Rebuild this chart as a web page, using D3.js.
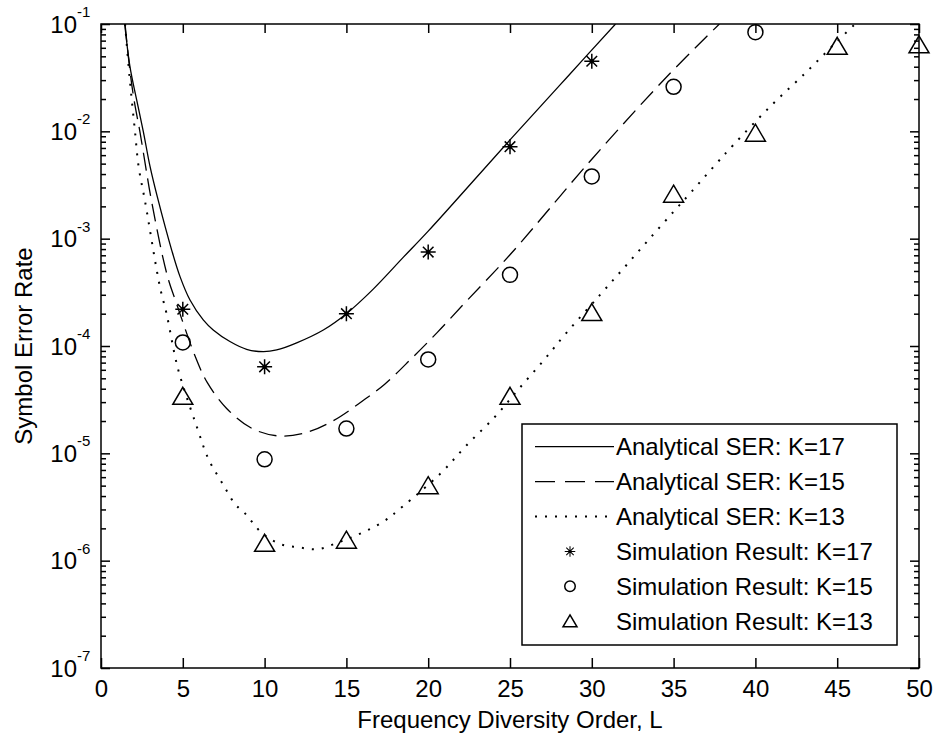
<!DOCTYPE html>
<html>
<head>
<meta charset="utf-8">
<script src="https://cdn.jsdelivr.net/npm/d3@7"></script>
<style>
  body { margin: 0; background: #fff; }
  text { font-family: "Liberation Sans", Arial, sans-serif; fill: #000; }
</style>
</head>
<body>
<div class="chart"></div>
<script>
// x ticks and y decades
var xTicks = [0, 5, 10, 15, 20, 25, 30, 35, 40, 45, 50];
var yDecades = [1e-7, 1e-6, 1e-5, 1e-4, 1e-3, 1e-2, 1e-1];
var yExponents = ["-7", "-6", "-5", "-4", "-3", "-2", "-1"];

// analytical curves
var anaL17 = [1.45, 1.77, 2.18, 2.59, 3.0, 3.44, 4.32, 4.83, 5.44, 6.25, 6.86, 7.88, 8.9, 9.92, 10.74, 11.96, 13.59, 15.0, 16.64, 18.5, 20, 25, 28.46, 31.45];
var anaK17 = [1e-1, 4.0e-2, 1.96e-2, 9.9e-3, 4.68e-3, 2.46e-3, 7.83e-4, 4.43e-4, 2.68e-4, 1.75e-4, 1.41e-4, 1.10e-4, 9.31e-5, 8.85e-5, 9.18e-5, 1.07e-4, 1.41e-4, 2.0e-4, 3.39e-4, 6.76e-4, 1.175e-3, 8.32e-3, 3.16e-2, 1e-1];

var anaL15 = [1.47, 1.74, 2.02, 2.38, 2.73, 3.04, 3.77, 4.16, 4.52, 5.75, 6.5, 7.68, 9.21, 10.9, 12.53, 14.16, 15.73, 17.36, 18.99, 20.56, 22.35, 25, 30, 34.6, 37.8];
var anaK15 = [1e-1, 4.0e-2, 1.96e-2, 9.9e-3, 4.68e-3, 2.46e-3, 6.79e-4, 3.97e-4, 2.74e-4, 8.07e-5, 4.55e-5, 2.62e-5, 1.71e-5, 1.45e-5, 1.56e-5, 2.0e-5, 2.88e-5, 4.43e-5, 7.67e-5, 1.34e-4, 2.63e-4, 7.08e-4, 5.5e-3, 3.24e-2, 1e-1];

var anaL13 = [1.47, 1.69, 1.88, 2.08, 2.3, 2.69, 3.6, 4.0, 4.62, 5.03, 5.85, 6.56, 7.48, 8.19, 8.8, 9.82, 10.94, 12.1, 13.28, 14.5, 15.53, 17.26, 18.42, 20.72, 22.35, 24.08, 25.51, 27.04, 28.46, 30.5, 32.03, 33.56, 35.09, 36.1, 37.63, 38.65, 40.9, 43.14, 44.97, 46.1];
var anaK13 = [1e-1, 4.0e-2, 1.96e-2, 9.9e-3, 4.68e-3, 2.24e-3, 3.57e-4, 2.02e-4, 6.9e-5, 4.17e-5, 1.78e-5, 8.91e-6, 5.07e-6, 3.37e-6, 2.76e-6, 1.82e-6, 1.43e-6, 1.33e-6, 1.28e-6, 1.48e-6, 1.70e-6, 2.31e-6, 3.18e-6, 6.41e-6, 1.19e-5, 2.19e-5, 3.94e-5, 7.29e-5, 1.33e-4, 2.99e-4, 5.48e-4, 1.01e-3, 1.85e-3, 2.74e-3, 5.04e-3, 7.46e-3, 1.70e-2, 3.6e-2, 6.84e-2, 1e-1];

// simulation points
var simL17 = [5, 10, 15, 20, 25, 30];
var simK17 = [2.2e-4, 6.4e-5, 2.0e-4, 7.5e-4, 7.2e-3, 4.5e-2];
var simL15 = [5, 10, 15, 20, 25, 30, 35, 40];
var simK15 = [1.08e-4, 8.8e-6, 1.7e-5, 7.5e-5, 4.6e-4, 3.8e-3, 2.6e-2, 8.4e-2];
var simL13 = [5, 10, 15, 20, 25, 30, 35, 40, 45, 50];
var simK13 = [3.4e-5, 1.45e-6, 1.55e-6, 5.0e-6, 3.4e-5, 2.05e-4, 2.6e-3, 9.6e-3, 6.2e-2, 6.4e-2];

var legendLabels = ["Analytical SER: K=17", "Analytical SER: K=15", "Analytical SER: K=13",
                    "Simulation Result: K=17", "Simulation Result: K=15", "Simulation Result: K=13"];

var svgWidth = 933;
var svgHeight = 742;
var margin = { top: 24, left: 101, right: 14, bottom: 74 };
var width = svgWidth - margin.left - margin.right;
var height = svgHeight - margin.top - margin.bottom;

var svg = d3.select(".chart").append("svg")
    .attr("width", svgWidth)
    .attr("height", svgHeight)
    .style("display", "block");

svg.append("rect").attr("width", svgWidth).attr("height", svgHeight).attr("fill", "#fff");

var chartGroup = svg.append("g")
    .attr("transform", `translate(${margin.left}, ${margin.top})`);

var xScale = d3.scaleLinear().domain([0, 50]).range([0, width]);
var yScale = d3.scaleLog().domain([1e-7, 1e-1]).range([height, 0]);

// minor log ticks 2..9 per decade
var minorTicks = [];
yDecades.slice(0, -1).forEach(function (d) {
    for (var k = 2; k <= 9; k++) minorTicks.push(d * k);
});

function styleAxis(g) {
    g.select(".domain").remove();
    g.selectAll(".tick line").attr("stroke", "#000").attr("stroke-width", 1.5);
    g.selectAll(".tick text").style("font-size", "24px").attr("fill", "#000");
}

// x axes (bottom with labels, top without)
chartGroup.append("g")
    .attr("transform", `translate(0,${height})`)
    .call(d3.axisBottom(xScale).tickValues(xTicks).tickSize(-10).tickSizeOuter(0).tickPadding(12))
    .call(styleAxis);
chartGroup.append("g")
    .call(d3.axisTop(xScale).tickValues(xTicks).tickSize(-9).tickSizeOuter(0).tickFormat(""))
    .call(styleAxis);

// y axes major + minor, left and right
chartGroup.append("g")
    .call(d3.axisLeft(yScale).tickValues(yDecades).tickSize(-9).tickSizeOuter(0).tickFormat(""))
    .call(styleAxis);
chartGroup.append("g")
    .call(d3.axisLeft(yScale).tickValues(minorTicks).tickSize(-5).tickSizeOuter(0).tickFormat(""))
    .call(styleAxis);
chartGroup.append("g")
    .attr("transform", `translate(${width},0)`)
    .call(d3.axisRight(yScale).tickValues(yDecades).tickSize(-9).tickSizeOuter(0).tickFormat(""))
    .call(styleAxis);
chartGroup.append("g")
    .attr("transform", `translate(${width},0)`)
    .call(d3.axisRight(yScale).tickValues(minorTicks).tickSize(-5).tickSizeOuter(0).tickFormat(""))
    .call(styleAxis);

// y tick labels 10^n
var yLab = chartGroup.selectAll(".ylab").data(yDecades).enter().append("g").attr("class", "ylab");
yLab.append("text")
    .attr("x", -24)
    .attr("y", d => yScale(d) + 8.5)
    .attr("text-anchor", "end")
    .style("font-size", "24px")
    .text("10");
yLab.append("text")
    .attr("x", -24)
    .attr("y", d => yScale(d) - 7)
    .style("font-size", "15px")
    .text((d, i) => yExponents[i]);

// box
chartGroup.append("rect")
    .attr("width", width).attr("height", height)
    .attr("fill", "none").attr("stroke", "#000").attr("stroke-width", 1.5);

// clip for curves
svg.append("defs").append("clipPath").attr("id", "plotclip")
    .append("rect").attr("width", width).attr("height", height);

var line = d3.line()
    .x(d => xScale(d[0]))
    .y(d => yScale(d[1]))
    .curve(d3.curveCatmullRom.alpha(0.5));

var curves = [
    { L: anaL17, v: anaK17, dash: null, w: 1.3 },
    { L: anaL15, v: anaK15, dash: "18,8", w: 1.3 },
    { L: anaL13, v: anaK13, dash: "2,8", w: 2 }
];

var curveGroup = chartGroup.append("g").attr("clip-path", "url(#plotclip)");
curves.forEach(function (c) {
    curveGroup.append("path")
        .datum(d3.zip(c.L, c.v))
        .attr("d", line)
        .attr("fill", "none")
        .attr("stroke", "#000")
        .attr("stroke-width", c.w)
        .attr("stroke-dasharray", c.dash);
});

// markers
var starPath = "M-7.5,0H7.5M0,-7.5V7.5M-5.3,-5.3L5.3,5.3M-5.3,5.3L5.3,-5.3";
var triPath = "M0,-9L10,8H-10Z";

function drawStar(g, s) {
    g.append("path").attr("d", starPath).attr("transform", `scale(${s})`)
        .attr("fill", "none").attr("stroke", "#000").attr("stroke-width", 1.5);
    g.append("circle").attr("r", 2.2 * s).attr("fill", "#000");
}
function drawCircle(g, s) {
    g.append("circle").attr("r", 7.5 * s)
        .attr("fill", "none").attr("stroke", "#000").attr("stroke-width", 1.5);
}
function drawTri(g, s) {
    g.append("path").attr("d", triPath).attr("transform", `scale(${s})`)
        .attr("fill", "none").attr("stroke", "#000").attr("stroke-width", 1.5 / s)
        .attr("stroke-linejoin", "miter");
}

var markerSets = [
    { L: simL17, v: simK17, draw: drawStar },
    { L: simL15, v: simK15, draw: drawCircle },
    { L: simL13, v: simK13, draw: drawTri }
];

markerSets.forEach(function (m) {
    chartGroup.selectAll(null)
        .data(d3.zip(m.L, m.v))
        .enter()
        .append("g")
        .attr("transform", d => `translate(${xScale(d[0])},${yScale(d[1])})`)
        .each(function () { m.draw(d3.select(this), 1); });
});

// legend
var legend = svg.append("g").attr("transform", "translate(522,424)");
var rowY0 = 22.7, rowStep = 34.9;
legend.append("rect")
    .attr("width", 375).attr("height", 221)
    .attr("fill", "#fff").attr("stroke", "#000").attr("stroke-width", 1.5);

legendLabels.forEach(function (lab, i) {
    var y = rowY0 + i * rowStep;
    if (i < 3) {
        legend.append("line")
            .attr("x1", 13).attr("x2", 92).attr("y1", y).attr("y2", y)
            .attr("stroke", "#000").attr("stroke-width", curves[i].w)
            .attr("stroke-dasharray", i === 1 ? "20,10" : curves[i].dash);
    } else {
        var g = legend.append("g").attr("transform", `translate(48,${y})`);
        markerSets[i - 3].draw(g, 0.7);
    }
    legend.append("text")
        .attr("x", 94)
        .attr("y", y + 8.5)
        .style("font-size", "24px")
        .text(lab);
});

// axis titles
svg.append("text")
    .attr("transform", `translate(${margin.left + width / 2}, 728)`)
    .attr("text-anchor", "middle")
    .style("font-size", "24px")
    .text("Frequency Diversity Order, L");

svg.append("text")
    .attr("transform", `translate(32, ${margin.top + height / 2}) rotate(-90)`)
    .attr("text-anchor", "middle")
    .style("font-size", "24px")
    .text("Symbol Error Rate");
</script>
</body>
</html>
